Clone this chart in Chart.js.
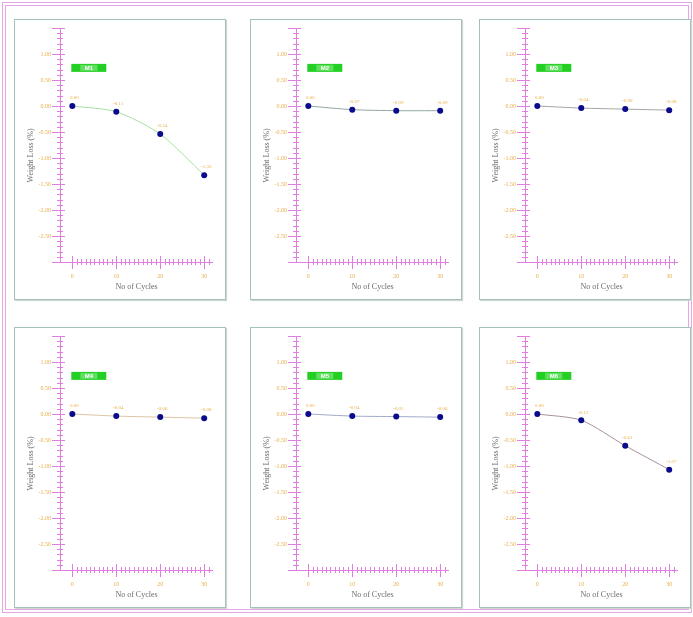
<!DOCTYPE html>
<html lang="en">
  <head>
    <meta charset="UTF-8" />
    <title>Weight Loss vs No of Cycles</title>
    <style>
      body {
        margin: 0;
        background-color: #ffffff;
        font-family: "Liberation Serif", serif;
      }
      .frame {
        position: absolute;
        left: 2px;
        top: 2px;
        width: 682px;
        height: 603px;
        border: 4px double #e6a6e6;
      }
      .panel {
        position: absolute;
        width: 210px;
        height: 279px;
        border: 1px solid #a3c2b8;
        box-shadow: 1px 1px 1px #d4d4d4;
        background: #ffffff;
      }
    </style>
    <script src="https://cdn.jsdelivr.net/npm/chart.js"></script>
  </head>
  <body>
    <div class="frame"></div>
    <div class="panel" style="left:14px;top:19px"><canvas id="c1" width="210" height="279"></canvas></div>
    <div class="panel" style="left:250px;top:19px"><canvas id="c2" width="210" height="279"></canvas></div>
    <div class="panel" style="left:479px;top:19px"><canvas id="c3" width="210" height="279"></canvas></div>
    <div class="panel" style="left:14px;top:327px"><canvas id="c4" width="210" height="279"></canvas></div>
    <div class="panel" style="left:250px;top:327px"><canvas id="c5" width="210" height="279"></canvas></div>
    <div class="panel" style="left:479px;top:327px"><canvas id="c6" width="210" height="279"></canvas></div>

    <script>
      // data
      const cycles = [0, 10, 20, 30];
      const xTicks = [0, 10, 20, 30];
      const yTicks = [1.0, 0.5, 0.0, -0.5, -1.0, -1.5, -2.0, -2.5];
      const mixNames = ["M1", "M2", "M3", "M4", "M5", "M6"];

      const loss1 = [0.00, -0.11, -0.54, -1.33];
      const loss2 = [0.00, -0.07, -0.09, -0.09];
      const loss3 = [0.00, -0.04, -0.06, -0.08];
      const loss4 = [0.00, -0.04, -0.06, -0.08];
      const loss5 = [0.00, -0.04, -0.05, -0.06];
      const loss6 = [0.00, -0.12, -0.61, -1.07];

      const lineColors = ["#a6e0a0", "#8fa8a2", "#a4a4a4", "#dcc4a2", "#a2a8c8", "#a8909a"];

      const AXIS = "#e07ee0";
      const ORANGE = "#e8ae48";

      // pink axes with ticks crossing the lines, value labels, legend box
      const axesPlugin = {
        id: "axesPlugin",
        afterDatasetsDraw(chart) {
          const ctx = chart.ctx;
          const xs = chart.scales.x;
          const ys = chart.scales.y;
          const ax = xs.left;
          const ay = ys.bottom;
          ctx.save();
          ctx.strokeStyle = AXIS;
          ctx.lineWidth = 1;
          ctx.beginPath();
          ctx.moveTo(ax + 0.5, ys.top);
          ctx.lineTo(ax + 0.5, ay);
          ctx.moveTo(ax, ay + 0.5);
          ctx.lineTo(xs.right, ay + 0.5);
          // y ticks
          for (let i = -30; i <= 15; i++) {
            const v = i / 10;
            const py = Math.round(ys.getPixelForValue(v)) + 0.5;
            if (i % 5 === 0) {
              ctx.moveTo(ax - 8, py);
              ctx.lineTo(ax + 5, py);
            } else {
              ctx.moveTo(ax - 3, py);
              ctx.lineTo(ax + 3, py);
            }
          }
          // x ticks
          for (let c = 0; c <= 31; c++) {
            const px = Math.round(xs.getPixelForValue(c)) + 0.5;
            if (c % 10 === 0) {
              ctx.moveTo(px, ay - 6);
              ctx.lineTo(px, ay + 7);
            } else {
              ctx.moveTo(px, ay - 3);
              ctx.lineTo(px, ay + 3);
            }
          }
          ctx.stroke();

          // y title
          ctx.fillStyle = "#6a6a6a";
          ctx.font = "8px 'Liberation Serif'";
          ctx.textAlign = "center";
          ctx.textBaseline = "middle";
          ctx.save();
          ctx.translate(16, ys.getPixelForValue(-0.95));
          ctx.rotate(-Math.PI / 2);
          ctx.fillText("Weight Loss (%)", 0, 0);
          ctx.restore();

          // value labels
          const meta = chart.getDatasetMeta(0);
          const vals = chart.data.datasets[0].data;
          ctx.fillStyle = ORANGE;
          ctx.font = "5px 'Liberation Serif'";
          meta.data.forEach((pt, i) => {
            ctx.fillText(vals[i].y.toFixed(2), pt.x + 2, pt.y - 8);
          });

          // legend box
          const lx = xs.getPixelForValue(0) - 1;
          const ly = ys.getPixelForValue(0.81);
          ctx.fillStyle = "#24cf24";
          ctx.fillRect(lx, ly, 35, 8);
          ctx.fillStyle = "#5fe05f";
          ctx.fillRect(lx + 9, ly + 1, 17, 6);
          ctx.fillStyle = "#ffffff";
          ctx.font = "bold 6px 'Liberation Sans'";
          ctx.fillText(chart.data.datasets[0].label, lx + 17.5, ly + 4.2);
          ctx.restore();
        }
      };

      function makeChart(id, values, name, color) {
        const points = cycles.map((c, i) => ({ x: c, y: values[i] }));
        return new Chart(document.getElementById(id), {
          type: "line",
          data: {
            datasets: [{
              label: name,
              data: points,
              borderColor: color,
              borderWidth: 1,
              tension: 0.25,
              pointRadius: 3,
              pointBackgroundColor: "#0a0a8c",
              pointBorderColor: "#0a0a8c",
              pointBorderWidth: 0
            }]
          },
          options: {
            responsive: false,
            animation: false,
            devicePixelRatio: 1,
            layout: { padding: { top: 8, right: 12, left: 0, bottom: 0 } },
            plugins: {
              legend: { display: false },
              tooltip: { enabled: false }
            },
            scales: {
              x: {
                type: "linear",
                min: -2.8,
                max: 32,
                grid: { display: false },
                border: { display: false },
                afterBuildTicks: (s) => { s.ticks = xTicks.map(v => ({ value: v })); },
                afterFit: (s) => { s.height = 37; },
                ticks: {
                  color: ORANGE,
                  padding: 3,
                  font: { family: "Liberation Serif", size: 6 }
                },
                title: {
                  display: true,
                  text: "No of Cycles",
                  color: "#6a6a6a",
                  padding: { top: 0, bottom: 7 },
                  font: { family: "Liberation Serif", size: 8 }
                }
              },
              y: {
                min: -3,
                max: 1.5,
                grid: { display: false },
                border: { display: false },
                afterBuildTicks: (s) => { s.ticks = yTicks.map(v => ({ value: v })); },
                afterFit: (s) => { s.width = 45; s.paddingTop = 0; s.paddingBottom = 0; },
                ticks: {
                  color: ORANGE,
                  padding: 1,
                  font: { family: "Liberation Serif", size: 6 },
                  callback: (v) => Number(v).toFixed(2)
                }
              }
            }
          },
          plugins: [axesPlugin]
        });
      }

      makeChart("c1", loss1, mixNames[0], lineColors[0]);
      makeChart("c2", loss2, mixNames[1], lineColors[1]);
      makeChart("c3", loss3, mixNames[2], lineColors[2]);
      makeChart("c4", loss4, mixNames[3], lineColors[3]);
      makeChart("c5", loss5, mixNames[4], lineColors[4]);
      makeChart("c6", loss6, mixNames[5], lineColors[5]);
    </script>
  </body>
</html>
